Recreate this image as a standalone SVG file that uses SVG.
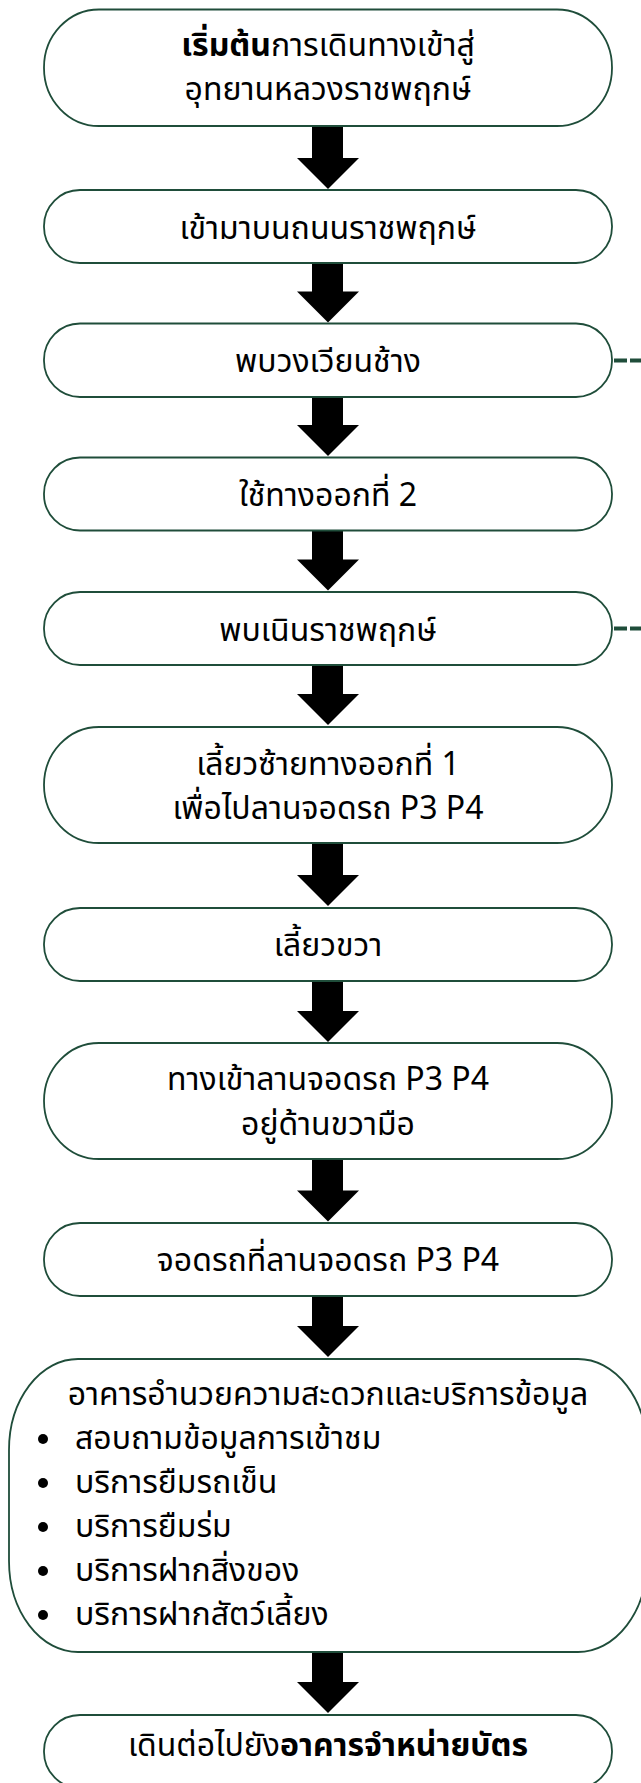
<svg xmlns="http://www.w3.org/2000/svg" width="641" height="1783" viewBox="0 0 641 1783">
<style>
.node{fill:#ffffff;stroke:#1f4d3a;stroke-width:1.8}
.t{font-family:'Noto Sans Thai','Noto Sans',sans-serif;font-size:32px;fill:#000000}
.c{text-anchor:middle}
.b{font-weight:bold}
.arrow{fill:#000000}
.dash{stroke:#1f4d3a;stroke-width:4;stroke-dasharray:13 3;fill:none}
</style>
<rect width="641" height="1783" fill="#ffffff"/>
<g id="connectors">
<path class="arrow" d="M312,126 L343,126 L343,158 L359,158 L328,189 L297,158 L312,158 Z"/>
<path class="arrow" d="M312,263 L343,263 L343,291.5 L359,291.5 L328,322.5 L297,291.5 L312,291.5 Z"/>
<path class="arrow" d="M312,397 L343,397 L343,425 L359,425 L328,456 L297,425 L312,425 Z"/>
<path class="arrow" d="M312,530.5 L343,530.5 L343,559.5 L359,559.5 L328,590.5 L297,559.5 L312,559.5 Z"/>
<path class="arrow" d="M312,665 L343,665 L343,694 L359,694 L328,725 L297,694 L312,694 Z"/>
<path class="arrow" d="M312,843 L343,843 L343,875 L359,875 L328,906 L297,875 L312,875 Z"/>
<path class="arrow" d="M312,981 L343,981 L343,1011 L359,1011 L328,1042 L297,1011 L312,1011 Z"/>
<path class="arrow" d="M312,1159 L343,1159 L343,1190.5 L359,1190.5 L328,1221.5 L297,1190.5 L312,1190.5 Z"/>
<path class="arrow" d="M312,1296 L343,1296 L343,1326 L359,1326 L328,1357 L297,1326 L312,1326 Z"/>
<path class="arrow" d="M312,1652 L343,1652 L343,1682 L359,1682 L328,1713 L297,1682 L312,1682 Z"/>
<line class="dash" x1="614" y1="360.5" x2="645" y2="360.5"/>
<line class="dash" x1="614" y1="628.5" x2="645" y2="628.5"/>
</g>
<g id="node1">
<rect class="node" x="44" y="9.5" width="568" height="116.5" rx="55" ry="58"/>
<text class="t c" x="328" y="55.5"><tspan class="b">เริ่มต้น</tspan>การเดินทางเข้าสู่</text>
<text class="t c" x="328" y="100">อุทยานหลวงราชพฤกษ์</text>
</g>
<g id="node2">
<rect class="node" x="44" y="190" width="568" height="73" rx="36" ry="36"/>
<text class="t c" x="328" y="238.5">เข้ามาบนถนนราชพฤกษ์</text>
</g>
<g id="node3">
<rect class="node" x="44" y="323.5" width="568" height="73.5" rx="36" ry="36"/>
<text class="t c" x="328" y="371.5">พบวงเวียนช้าง</text>
</g>
<g id="node4">
<rect class="node" x="44" y="457.5" width="568" height="73" rx="36" ry="36"/>
<text class="t c" x="328" y="505.5">ใช้ทางออกที่ 2</text>
</g>
<g id="node5">
<rect class="node" x="44" y="592" width="568" height="73" rx="36" ry="36"/>
<text class="t c" x="328" y="640.5">พบเนินราชพฤกษ์</text>
</g>
<g id="node6">
<rect class="node" x="44" y="727" width="568" height="116" rx="55" ry="58"/>
<text class="t c" x="328" y="775">เลี้ยวซ้ายทางออกที่ 1</text>
<text class="t c" x="328" y="818.5">เพื่อไปลานจอดรถ P3 P4</text>
</g>
<g id="node7">
<rect class="node" x="44" y="908" width="568" height="73" rx="36" ry="36"/>
<text class="t c" x="328" y="956">เลี้ยวขวา</text>
</g>
<g id="node8">
<rect class="node" x="44" y="1043" width="568" height="116" rx="55" ry="58"/>
<text class="t c" x="328" y="1090">ทางเข้าลานจอดรถ P3 P4</text>
<text class="t c" x="328" y="1135">อยู่ด้านขวามือ</text>
</g>
<g id="node9">
<rect class="node" x="44" y="1223" width="568" height="73" rx="36" ry="36"/>
<text class="t c" x="328" y="1271">จอดรถที่ลานจอดรถ P3 P4</text>
</g>
<g id="node10">
<rect class="node" x="9" y="1359" width="638" height="293" rx="69" ry="91"/>
<text class="t c" x="328" y="1405">อาคารอำนวยความสะดวกและบริการข้อมูล</text>
<circle cx="43" cy="1439" r="5"/>
<circle cx="43" cy="1483" r="5"/>
<circle cx="43" cy="1527" r="5"/>
<circle cx="43" cy="1571" r="5"/>
<circle cx="43" cy="1615" r="5"/>
<text class="t" x="75" y="1449">สอบถามข้อมูลการเข้าชม</text>
<text class="t" x="75" y="1493">บริการยืมรถเข็น</text>
<text class="t" x="75" y="1537">บริการยืมร่ม</text>
<text class="t" x="75" y="1581">บริการฝากสิ่งของ</text>
<text class="t" x="75" y="1625">บริการฝากสัตว์เลี้ยง</text>
</g>
<g id="node11">
<rect class="node" x="44" y="1715" width="568" height="73" rx="36" ry="36"/>
<text class="t c" x="328" y="1756">เดินต่อไปยัง<tspan class="b">อาคารจำหน่ายบัตร</tspan></text>
</g>
</svg>
